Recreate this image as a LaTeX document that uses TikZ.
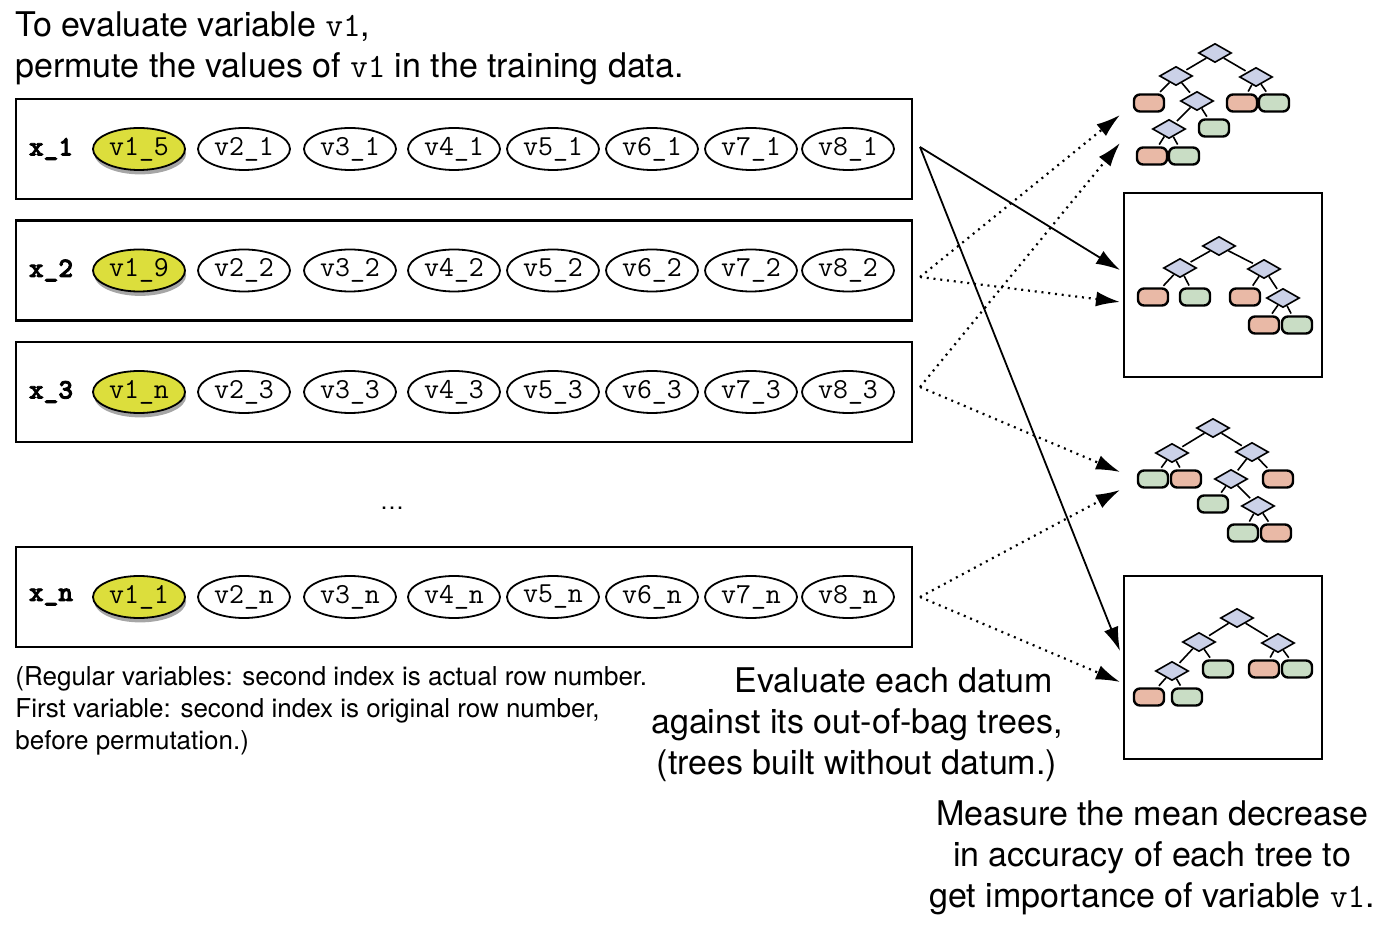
\documentclass[tikz,border=0pt]{standalone}
\usepackage{fontspec}
\setmainfont{TeX Gyre Heros}
\newfontfamily\labelmono{lmmonolt10-bold.otf}[FakeBold=3]
\usepackage{tikz}
\usetikzlibrary{arrows.meta,shapes,shadows}
\definecolor{permyellow}{HTML}{DCDE3C}
\definecolor{splitblue}{HTML}{CBD1E8}
\definecolor{leafred}{HTML}{E9B9A6}
\definecolor{leafgreen}{HTML}{C9DDC5}
\tikzstyle{rowbox}=[draw, line width=1.1pt, minimum width=448pt, minimum height=50pt, inner sep=0pt]
\tikzstyle{rowlabel}=[font=\fontsize{14}{14}\selectfont\labelmono\bfseries]
\tikzstyle{varnode}=[draw, ellipse, line width=0.9pt, minimum width=46pt, minimum height=21pt, inner sep=0pt, fill=white, font=\fontsize{14.5}{14.5}\selectfont\ttfamily]
\tikzstyle{permvar}=[varnode, fill=permyellow, drop shadow={shadow xshift=0.6pt, shadow yshift=-2.2pt, opacity=0.7}]
\tikzstyle{splitnode}=[draw, diamond, line width=0.8pt, fill=splitblue, minimum width=16.5pt, minimum height=9.5pt, inner sep=0pt]
\tikzstyle{leafnode}=[draw, rounded corners=3pt, line width=1.2pt, minimum width=15pt, minimum height=8.5pt, inner sep=0pt]
\tikzstyle{leafr}=[leafnode, fill=leafred]
\tikzstyle{leafg}=[leafnode, fill=leafgreen]
\tikzstyle{branchline}=[line width=0.8pt, shorten >=1pt]
\tikzstyle{treebox}=[draw, line width=1pt, minimum width=99pt, inner sep=0pt]
\tikzstyle{inbag}=[line width=0.9pt, -{Latex[length=12pt,width=7.5pt]}]
\tikzstyle{oob}=[inbag, line width=1.1pt, dash pattern=on 1pt off 2.4pt]
\tikzstyle{bigtext}=[inner sep=0pt, font=\fontsize{17}{20.5}\selectfont]
\newcommand{\branches}[2]{
	\foreach \a/\b in {#2}
		\draw[branchline] (#1\a) -- (#1\b);
}

\begin{document}
\begin{tikzpicture}[x=0.5pt, y=-0.5pt]
	\useasboundingbox (0,0) rectangle (1382,940);
%
	\node[bigtext, anchor=north west, align=left] (title) at (15,11) {To evaluate variable \texttt{v1},\\permute the values of \texttt{v1} in the training data.};
%
	\foreach \r/\yy/\first in {1/149/5, 2/270.5/9, 3/392/n, n/597/1}{
		\node[rowbox] (x\r) at (464,\yy) {};
		\node[rowlabel] (l\r) at (51,\yy) {x\_\r};
		\node[permvar] (x\r v1) at (139,\yy) {v1\_\first};
		\foreach \c/\xx in {2/244, 3/350, 4/454, 5/553, 6/652, 7/751, 8/848}
			\node[varnode] (x\r v\c) at (\xx,\yy) {v\c\_\r};
	}
	\node[font=\fontsize{12}{12}\selectfont] (dots) at (392,508) {\dots};
%
	\node[anchor=north west, align=left, inner sep=0pt, font=\fontsize{13}{16}\selectfont] (note) at (15,666) {(Regular variables: second index is actual row number.\\First variable: second index is original row number,\\before permutation.)};
	\node[bigtext, align=center] (evaluate) at (857,725) {\hspace*{37pt}Evaluate each datum\\against its out-of-bag trees,\\(trees built without datum.)};
	\node[bigtext, align=center] (measure) at (1152,858) {Measure the mean decrease\\in accuracy of each tree to\\get importance of variable \texttt{v1}.};
%
	% tree 1
	\node[splitnode] (a0) at (1215,53) {};
	\node[splitnode] (a1) at (1176,76) {};
	\node[splitnode] (a2) at (1256,77) {};
	\node[leafr] (a3) at (1149,103) {};
	\node[splitnode] (a4) at (1197,101) {};
	\node[splitnode] (a5) at (1169,129) {};
	\node[leafg] (a6) at (1214,128) {};
	\node[leafr] (a7) at (1152,156) {};
	\node[leafg] (a8) at (1184,156) {};
	\node[leafr] (a9) at (1242,103) {};
	\node[leafg] (a10) at (1274,103) {};
	\branches{a}{0/1, 0/2, 1/3, 1/4, 4/5, 4/6, 5/7, 5/8, 2/9, 2/10}
%
	% tree 2
	\node[treebox, minimum height=92pt] (boxb) at (1223,285) {};
	\node[splitnode] (b0) at (1219,246) {};
	\node[splitnode] (b1) at (1180,268) {};
	\node[splitnode] (b2) at (1264,269) {};
	\node[leafr] (b3) at (1153,297) {};
	\node[leafg] (b4) at (1195,297) {};
	\node[leafr] (b5) at (1245,297) {};
	\node[splitnode] (b6) at (1283,298) {};
	\node[leafr] (b7) at (1264,325) {};
	\node[leafg] (b8) at (1297,325) {};
	\branches{b}{0/1, 0/2, 1/3, 1/4, 2/5, 2/6, 6/7, 6/8}
%
	% tree 3
	\node[splitnode] (c0) at (1213,428) {};
	\node[splitnode] (c1) at (1172,453) {};
	\node[splitnode] (c2) at (1252,452) {};
	\node[leafg] (c3) at (1153,479) {};
	\node[leafr] (c4) at (1186,479) {};
	\node[splitnode] (c5) at (1231,479) {};
	\node[leafr] (c6) at (1278,479) {};
	\node[leafg] (c7) at (1213,504) {};
	\node[splitnode] (c8) at (1258,506) {};
	\node[leafg] (c9) at (1243,533) {};
	\node[leafr] (c10) at (1276,533) {};
	\branches{c}{0/1, 0/2, 1/3, 1/4, 2/5, 2/6, 5/7, 5/8, 8/9, 8/10}
%
	% tree 4
	\node[treebox, minimum height=91.5pt] (boxd) at (1223,667.5) {};
	\node[splitnode] (d0) at (1237,618) {};
	\node[splitnode] (d1) at (1199,642) {};
	\node[splitnode] (d2) at (1278,643) {};
	\node[splitnode] (d3) at (1172,671) {};
	\node[leafg] (d4) at (1218,669) {};
	\node[leafr] (d5) at (1264,669) {};
	\node[leafg] (d6) at (1297,669) {};
	\node[leafr] (d7) at (1149,697) {};
	\node[leafg] (d8) at (1187,697) {};
	\branches{d}{0/1, 0/2, 1/3, 1/4, 2/5, 2/6, 3/7, 3/8}
%
	\coordinate (s1) at (920,147);
	\coordinate (s2) at (920,277);
	\coordinate (s3) at (920,387);
	\coordinate (sn) at (920,597);
	\coordinate (ta1) at (1120,115);
	\coordinate (ta2) at (1120,143);
	\coordinate (tb1) at (1120,270);
	\coordinate (tb2) at (1120,302);
	\coordinate (tc1) at (1120,472);
	\coordinate (tc2) at (1120,490);
	\coordinate (td1) at (1120,651);
	\coordinate (td2) at (1120,682);
%
	\draw[inbag] (s1) -- (tb1);
	\draw[inbag] (s1) -- (td1);
	\draw[oob] (s2) -- (ta1);
	\draw[oob] (s2) -- (tb2);
	\draw[oob] (s3) -- (ta2);
	\draw[oob] (s3) -- (tc1);
	\draw[oob] (sn) -- (tc2);
	\draw[oob] (sn) -- (td2);
\end{tikzpicture}
\end{document}
